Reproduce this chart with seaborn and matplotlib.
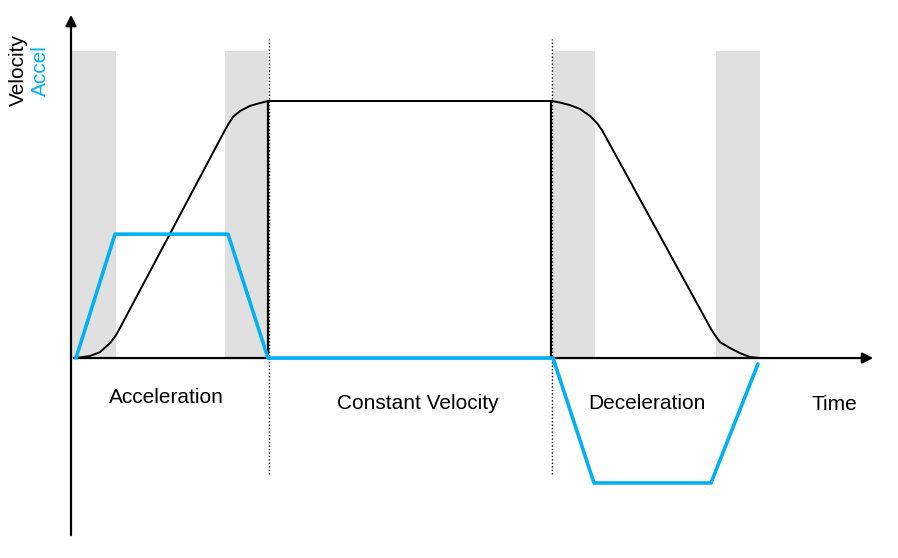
import numpy as np
import pandas as pd
import matplotlib
matplotlib.use("Agg")
import matplotlib.pyplot as plt
import seaborn as sns

# time in s, velocity normalised to cruise speed = 1
vel_t = [0.00, 0.14, 0.24, 0.34, 0.40, 0.44, 1.49, 1.53, 1.57, 1.64, 1.74, 1.84, 1.92,
         4.76, 4.84, 4.94, 5.04, 5.14, 5.21, 5.26, 6.35, 6.39, 6.41, 6.44, 6.54, 6.64, 6.74, 6.84]
vel_v = [0.000, 0.008, 0.023, 0.058, 0.089, 0.117, 0.887, 0.914, 0.938, 0.961, 0.981, 0.992, 1.000,
         1.000, 0.994, 0.984, 0.969, 0.942, 0.914, 0.887, 0.113, 0.089, 0.078, 0.062, 0.039, 0.019,
         0.004, 0.000]

acc_t = [0.00, 0.39, 1.52, 1.92, 4.77, 5.18, 6.35, 6.82]
acc_a = [0.000, 0.482, 0.482, 0.000, 0.000, -0.486, -0.486, -0.023]

# grey jerk zones (start, end)
jerk_start = [-0.04, 1.49, 4.77, 6.40]
jerk_end = [0.40, 1.92, 5.19, 6.84]
band_top = 1.195

phase_bounds = [1.93, 4.76]
phase_names = ["Acceleration", "Constant Velocity", "Deceleration"]
phase_label_t = [0.90, 3.42, 5.71]

blue = "#00b0f0"

sns.set_style("white")
plt.rcParams["font.family"] = ["Liberation Sans", "DejaVu Sans"]
plt.rcParams["text.color"] = "black"

vel = pd.DataFrame({"t": vel_t, "v": vel_v})
acc = pd.DataFrame({"t": acc_t, "a": acc_a})

fig = plt.figure(figsize=(8.98, 5.58), dpi=100)
ax = fig.add_axes([0, 0, 1, 1])
ax.set_xlim(-0.76, 8.22)
ax.set_ylim(-0.778, 1.393)
ax.axis("off")

for s, e in zip(jerk_start, jerk_end):
    ax.fill_between([s, e], 0, band_top, color="#e0e0e0", lw=0, zorder=0)

for b in phase_bounds:
    ax.plot([b, b], [-0.45, 1.24], color="black", ls=(0, (1, 1.5)), lw=1.0, zorder=1)
    ax.plot([b - 0.01, b - 0.01], [0, 1.0], color="black", lw=1.6, zorder=2)

sns.lineplot(data=vel, x="t", y="v", ax=ax, color="black", lw=1.4,
             sort=False, estimator=None, zorder=3)

# axes with arrows
ax.annotate("", xy=(-0.05, 1.346), xytext=(-0.05, -0.70),
            arrowprops=dict(arrowstyle="-|>", color="black", lw=1.6, mutation_scale=16), zorder=4)
ax.annotate("", xy=(8.0, 0), xytext=(-0.05, 0),
            arrowprops=dict(arrowstyle="-|>", color="black", lw=1.6, mutation_scale=16), zorder=4)

sns.lineplot(data=acc, x="t", y="a", ax=ax, color=blue, lw=2.6,
             sort=False, estimator=None, zorder=5)

for name, t in zip(phase_names, phase_label_t):
    y = -0.152 if name == "Acceleration" else -0.175
    ax.text(t, y, name, ha="center", va="center", fontsize=15)
ax.text(7.58, -0.179, "Time", ha="center", va="center", fontsize=15)
ax.text(-0.58, 1.12, "Velocity", rotation=90, ha="center", va="center", fontsize=15)
ax.text(-0.36, 1.12, "Accel", rotation=90, ha="center", va="center", fontsize=15,
        color=blue)

fig.savefig("out.png", dpi=100)
